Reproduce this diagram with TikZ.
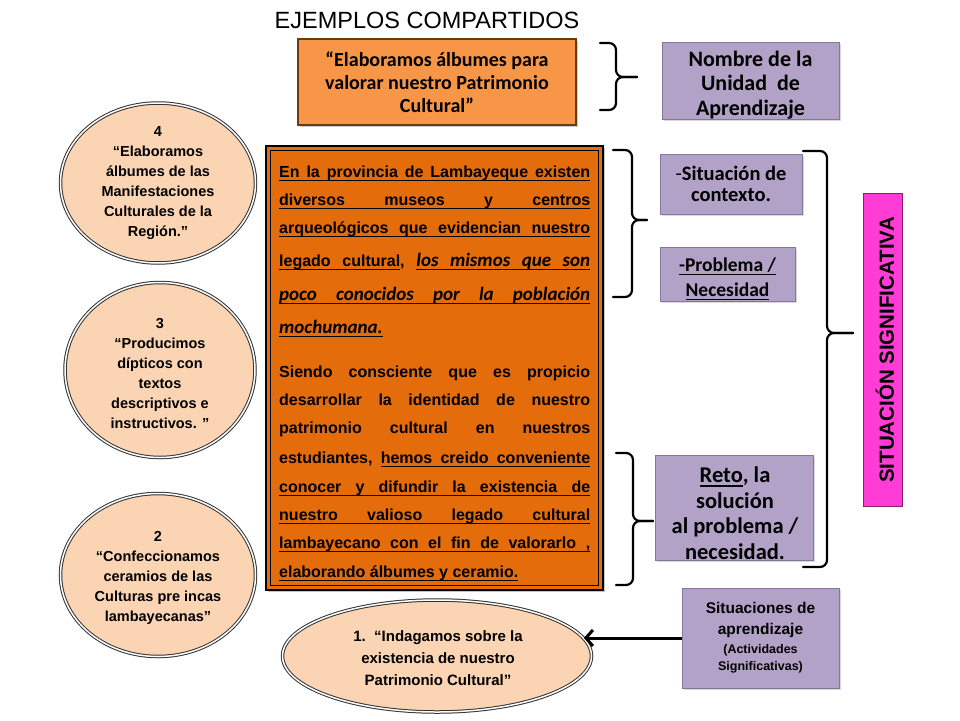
\documentclass[tikz,border=0pt]{standalone}
\usepackage{fontspec}
\setmainfont{Liberation Sans}
\newfontfamily\calib{Carlito}
\usetikzlibrary{arrows.meta,shadows,shapes.geometric}
\definecolor{orgD}{HTML}{E46C0A}
\definecolor{orgL}{HTML}{F79646}
\definecolor{peach}{HTML}{FBD4B4}
\definecolor{lav}{HTML}{B3A2C7}
\definecolor{lavB}{HTML}{85779B}
\definecolor{mag}{HTML}{FF3DD6}
\definecolor{magB}{HTML}{8A1F70}
\definecolor{brn}{HTML}{6B3A10}
\newcommand\ulsp{\leaders\hrule height -2.6pt depth 4.2pt\hskip\fontdimen2\font plus 1fil\relax}
\newcommand\plsp{\hskip\fontdimen2\font plus 1fil\relax}
\newcommand\ulw[1]{\setbox0=\hbox{#1}\rlap{\vrule height -2.6pt depth 4.2pt width \wd0}\box0}
\ExplSyntaxOn
\seq_new:N \l__myul_seq
\NewDocumentCommand \ULL { m }
 {
  \seq_set_split:Nnn \l__myul_seq { ~ } { #1 }
  \seq_map_indexed_inline:Nn \l__myul_seq
   { \int_compare:nNnT { ##1 } > { 1 } { \ulsp } \ulw { ##2 } }
 }
\NewDocumentCommand \SPL { m }
 {
  \seq_set_split:Nnn \l__myul_seq { ~ } { #1 }
  \seq_use:Nn \l__myul_seq { \plsp }
 }
\ExplSyntaxOff
\newcommand\itc{\calib\bfseries\itshape\fontsize{19}{20}\selectfont}
\newcommand\smf{\fontsize{12.5}{16}\selectfont}
\begin{document}
\begin{tikzpicture}[x=1pt,y=-1pt,
  ell/.style={ellipse, draw=black!80, line width=1pt, double=white, double distance=1.5pt, fill=peach, inner sep=0pt},
  elltxt/.style={align=center, inner sep=0pt, font=\bfseries\fontsize{14.5}{20}\selectfont},
  lavbox/.style={rectangle, draw=lavB, line width=1pt, fill=lav, inner sep=0pt,
     drop shadow={shadow xshift=1.5pt, shadow yshift=-1.5pt, opacity=.3}},
  boxtxt/.style={align=center, inner sep=0pt},
  ln/.style={anchor=base west, inner sep=0pt, font=\bfseries\fontsize{16}{18}\selectfont},
  brc/.style={line width=2.2pt, rounded corners=7pt, line cap=round, line join=round},
  arr/.style={line width=3pt, -{Straight Barb[length=7pt,width=16pt]}}
]
\useasboundingbox (0,0) rectangle (960,720);
\fill[white] (0,0) rectangle (960,720);

% title
\node[inner sep=0pt, font=\fontsize{23.5}{26}\selectfont] (title) at (427,20) {EJEMPLOS COMPARTIDOS};

% top orange box
\node[rectangle, draw=brn, line width=1.8pt, fill=orgL, minimum width=278pt, minimum height=86pt, inner sep=0pt,
      align=center, font=\calib\bfseries\fontsize{20}{23}\selectfont,
      drop shadow={shadow xshift=1.5pt, shadow yshift=-1.5pt, opacity=.4}] (topbox) at (437,82)
  {“Elaboramos álbumes para\\valorar nuestro Patrimonio\\Cultural”};

% Nombre box
\node[lavbox, minimum width=177pt, minimum height=77pt] (nombre) at (750.5,80.5) {};
\node[boxtxt, font=\calib\bfseries\fontsize{22}{24.5}\selectfont] (nombreT) at (750.5,85)
  {Nombre de la\\Unidad\ \ de\\Aprendizaje};

% big box
\node[rectangle, draw=black, line width=2.4pt, fill=orgD, minimum width=337pt, minimum height=444pt,
      drop shadow={shadow xshift=2pt, shadow yshift=-2pt, opacity=.45}] (big) at (434.5,368) {};
\draw[line width=1.3pt] ([shift={(6,6)}]big.north west) rectangle ([shift={(-6,-6)}]big.south east);

% paragraph 1
\node[ln] (l1) at (279,177) {\hbox to 311pt{\ULL{En la provincia de Lambayeque existen}}};
\node[ln] (l2) at (279,205) {\hbox to 311pt{\ULL{diversos museos y centros}}};
\node[ln] (l3) at (279,233) {\hbox to 311pt{\ULL{arqueológicos que evidencian nuestro}}};
\node[ln] (l4) at (279,266) {\hbox to 311pt{\ULL{legado cultural},\plsp{\itc\ULL{los mismos que son}}}};
\node[ln] (l5) at (279,300) {\hbox to 311pt{\itc\ULL{poco conocidos por la población}}};
\node[ln] (l6) at (279,333) {\hbox{\itc\ULL{mochumana.}}};
% paragraph 2
\node[ln] (m1) at (279,377) {\hbox to 311pt{\SPL{Siendo consciente que es propicio}}};
\node[ln] (m2) at (279,405) {\hbox to 311pt{\SPL{desarrollar la identidad de nuestro}}};
\node[ln] (m3) at (279,433) {\hbox to 311pt{\SPL{patrimonio cultural en nuestros}}};
\node[ln] (m4) at (279,463) {\hbox to 311pt{estudiantes,\plsp\ULL{hemos creido conveniente}}};
\node[ln] (m5) at (279,492) {\hbox to 311pt{\ULL{conocer y difundir la existencia de}}};
\node[ln] (m6) at (279,520) {\hbox to 311pt{\ULL{nuestro valioso legado cultural}}};
\node[ln] (m7) at (279,548) {\hbox to 311pt{\ULL{lambayecano con el fin de valorarlo ,}}};
\node[ln] (m8) at (279,577) {\hbox{\ULL{elaborando álbumes y ceramio.}}};

% right boxes
\node[lavbox, minimum width=142pt, minimum height=60pt] (ctx) at (731,184) {};
\node[boxtxt, font=\calib\bfseries\fontsize{20.5}{21}\selectfont] (ctxT) at (731,184)
  {{\mdseries-}Situación de\\contexto.};
\node[lavbox, minimum width=135pt, minimum height=54pt] (prob) at (727.5,274) {};
\node[boxtxt, font=\calib\bfseries\fontsize{19.5}{25}\selectfont] (probT) at (727.5,279)
  {\ULL{-Problema /}\\\ULL{Necesidad}};
\node[lavbox, minimum width=158pt, minimum height=105pt] (reto) at (734,507.5) {};
\node[boxtxt, font=\calib\bfseries\fontsize{22.5}{25.5}\selectfont] (retoT) at (735,513)
  {\ULL{Reto}, la\\solución\\al problema /\\necesidad.};
\node[lavbox, minimum width=157pt, minimum height=100pt] (sitap) at (760.5,638) {};
\node[boxtxt, font=\bfseries\fontsize{15.5}{21}\selectfont] (sitapT) at (760.5,638)
  {Situaciones de\\aprendizaje\\[-2pt]{\smf (Actividades}\\[-4pt]{\smf Significativas)}};

% magenta box
\node[rectangle, draw=magB, line width=1pt, fill=mag, minimum width=39pt, minimum height=313pt] (magbox) at (882.5,350) {};
\node[rotate=90, inner sep=0pt, font=\bfseries\fontsize{20.5}{22}\selectfont] (magtxt) at (885,350) {SITUACIÓN SIGNIFICATIVA};

% ellipses
\node[ell, minimum width=195pt, minimum height=160pt] (e4) at (158,183) {};
\node[elltxt] (t4) at (e4) {4\\“Elaboramos\\álbumes de las\\Manifestaciones\\Culturales de la\\Región.”};
\node[ell, minimum width=190pt, minimum height=175pt] (e3) at (160,370) {};
\node[elltxt] (t3) at (160,374) {3\\“Producimos\\dípticos con\\textos\\descriptivos e\\instructivos. ”};
\node[ell, minimum width=195pt, minimum height=163pt] (e2) at (158,575) {};
\node[elltxt] (t2) at (158,578) {2\\“Confeccionamos\\ceramios de las\\Culturas pre incas\\lambayecanas”};
\node[ell, minimum width=309pt, minimum height=112pt] (e1) at (437,656) {};
\node[elltxt, font=\bfseries\fontsize{15}{22}\selectfont] (t1) at (438,658) {1.\ \ “Indagamos sobre la\\existencia de nuestro\\Patrimonio Cultural”};

% braces
\draw[brc] (600,43) -- (616,43) -- (616,77) -- (637,77);
\draw[brc] (600,110) -- (616,110) -- (616,77) -- (637,77);
\draw[brc] (613,150) -- (632,150) -- (632,220) -- (647,220);
\draw[brc] (613,297) -- (632,297) -- (632,220) -- (647,220);
\draw[brc] (616,453) -- (633,453) -- (633,521) -- (653,521);
\draw[brc] (616,585) -- (633,585) -- (633,521) -- (653,521);
\draw[brc] (803,151) -- (827,151) -- (827,333) -- (853,333);
\draw[brc] (803,567) -- (827,567) -- (827,333) -- (853,333);

% arrow
\draw[arr] (sitap.west) -- (e1.7 |- sitap.west);
\end{tikzpicture}
\end{document}
